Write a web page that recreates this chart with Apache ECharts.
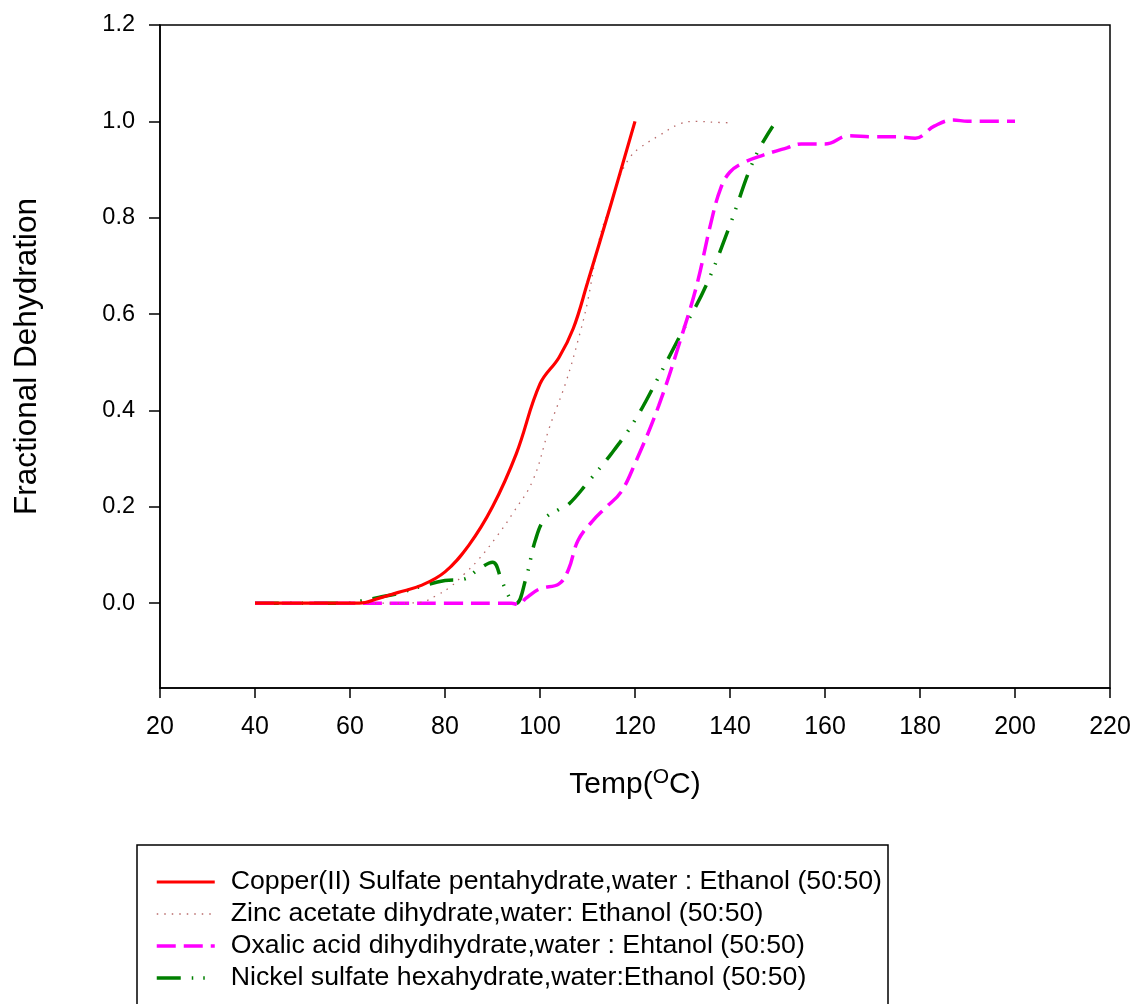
<!DOCTYPE html>
<html><head><meta charset="utf-8">
<script src="https://cdn.jsdelivr.net/npm/echarts@6/dist/echarts.min.js"></script>
<style>html,body{margin:0;padding:0;background:#fff}#c{width:1134px;height:1004px}</style>
</head><body><div id="c"></div>
<script>
var xTicks = [20,40,60,80,100,120,140,160,180,200,220];
var yTicks = [0,0.2,0.4,0.6,0.8,1.0,1.2];

var seriesNames = [
  'Copper(II) Sulfate pentahydrate,water : Ethanol (50:50)',
  'Zinc acetate dihydrate,water: Ethanol (50:50)',
  'Oxalic acid dihydihydrate,water : Ehtanol (50:50)',
  'Nickel sulfate hexahydrate,water:Ethanol (50:50)'
];

var copperT = [40,50,60,62,66,70,75,80,85,90,95,100,104,107,110,115,120];
var copperY = [0,0,0,0,0.01,0.022,0.037,0.065,0.12,0.2,0.31,0.455,0.51,0.57,0.665,0.83,1.0];

var zincT = [40,50,60,70,75,78,81,84,87,91,94.5,98.5,102,105.5,108.4,110,112.6,115,117,119,121,125,129.5,133,137,140];
var zincY = [0,0,0,0,0.002,0.015,0.033,0.06,0.09,0.14,0.19,0.255,0.365,0.46,0.56,0.625,0.76,0.83,0.89,0.926,0.945,0.97,0.995,1.0,0.998,0.997];

var oxalicT = [40,50,60,70,80,90,94,95.5,97,100,104,106,108,111,114,117,120,125,130,133,136,138,140,143,147,152,155,160,165,170,175,179,183,187,190,200];
var oxalicY = [0,0,0,0,0,0,0,-0.003,0.01,0.03,0.04,0.07,0.13,0.17,0.2,0.23,0.29,0.41,0.56,0.66,0.79,0.86,0.895,0.915,0.93,0.945,0.953,0.953,0.97,0.968,0.968,0.965,0.99,1.003,1.0,1.0];

var nickelT = [40,50,60,62,66,70,75,80,84,87,90,92,94,95,97,99,101,104,106,110,115,120,125,130,135,140,145,149];
var nickelY = [0,0,0,0.004,0.012,0.02,0.035,0.047,0.05,0.07,0.085,0.045,0.005,0,0.05,0.13,0.175,0.195,0.205,0.25,0.31,0.38,0.47,0.565,0.66,0.785,0.92,0.99];

function pairs(t, y){ return t.map(function(v,i){ return [v, y[i]]; }); }

var FONT = 'Liberation Sans, Arial, sans-serif';
var chart = echarts.init(document.getElementById('c'), null, {renderer:'canvas'});

var styles = [
  {color:'#ff0000', width:3.2, type:'solid'},
  {color:'#b86a6a', width:1.3, type:[1.5,6]},
  {color:'#ff00ff', width:3.5, type:[19,8]},
  {color:'#008000', width:3.5, type:[24,11,1.5,10,1.5,11]}
];

var option = {
  animation: false,
  backgroundColor: '#fff',
  grid: {left:160, right:24, top:25, bottom:316, show:true, borderColor:'#000', borderWidth:1.5, backgroundColor:'transparent'},
  xAxis: {
    type:'value', min:20, max:220, interval:20,
    name:'Temp({s|O}C)', nameLocation:'middle', nameGap:80,
    nameTextStyle:{fontFamily:FONT, fontSize:30, color:'#000', lineHeight:34,
      rich:{s:{fontSize:21, fontFamily:FONT, color:'#000', padding:[0,0,16,0]}}},
    axisLine:{show:true, onZero:false, lineStyle:{color:'#000', width:1.5}},
    axisTick:{show:true, inside:false, length:10, lineStyle:{color:'#000', width:1.5}},
    axisLabel:{fontFamily:FONT, fontSize:25, color:'#000', margin:27, showMinLabel:true, showMaxLabel:true},
    splitLine:{show:false}
  },
  yAxis: {
    type:'value', min:-0.176, max:1.2,
    name:'Fractional Dehydration', nameLocation:'middle', nameRotate:90, nameGap:117,
    nameTextStyle:{fontFamily:FONT, fontSize:31.5, color:'#000'},
    axisLine:{show:true, onZero:false, lineStyle:{color:'#000', width:1.5}},
    axisTick:{show:true, inside:false, length:11, customValues:yTicks, lineStyle:{color:'#000', width:1.5}},
    axisLabel:{fontFamily:FONT, fontSize:23.5, color:'#000', margin:25, customValues:yTicks,
      formatter:function(v){ return v.toFixed(1); }},
    splitLine:{show:false}
  },
  legend: {
    orient:'vertical', left:155, top:868, padding:0, itemWidth:58, itemHeight:12, itemGap:4,
    itemStyle:{opacity:0},
    textStyle:{fontFamily:FONT, fontSize:26.7, color:'#000', lineHeight:28, padding:[0,0,0,11]},
    data: seriesNames.map(function(n, i){ return {name:n, lineStyle:{width:styles[i].width, type:styles[i].type, color:styles[i].color}}; })
  },
  graphic: [{type:'rect', shape:{x:137, y:845, width:751, height:200}, style:{fill:'none', stroke:'#000', lineWidth:1.5}, silent:true}],
  series: seriesNames.map(function(n, i){
    var d = [pairs(copperT, copperY), pairs(zincT, zincY), pairs(oxalicT, oxalicY), pairs(nickelT, nickelY)][i];
    return {name:n, type:'line', data:d, smooth:0.4, symbol:'none',
      lineStyle:styles[i], itemStyle:{color:styles[i].color}, z:5-i};
  })
};
chart.setOption(option);
</script>
</body></html>
